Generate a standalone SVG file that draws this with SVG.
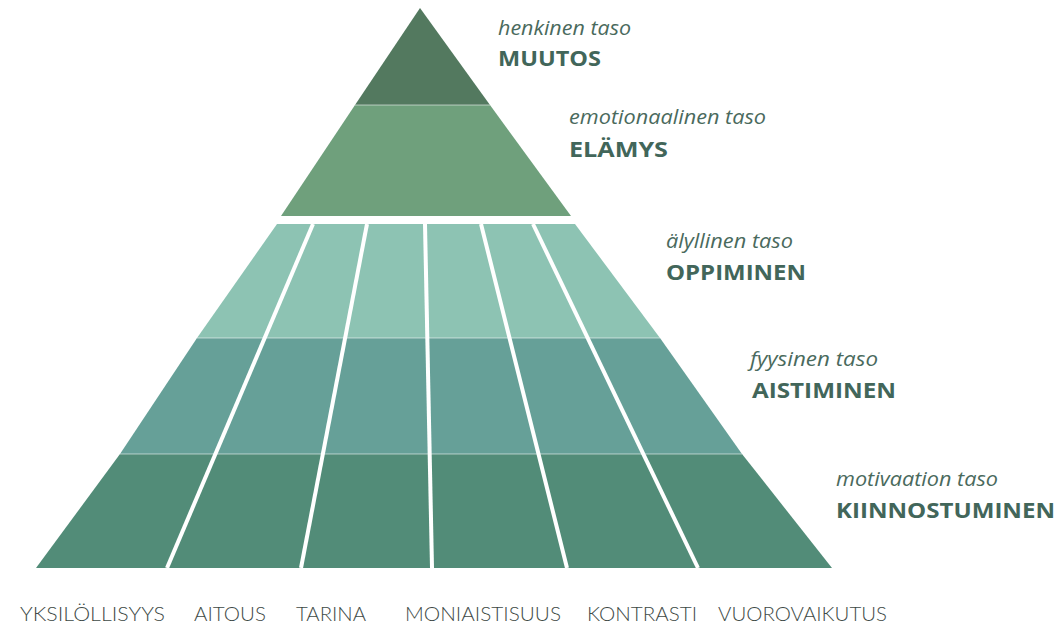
<svg xmlns="http://www.w3.org/2000/svg" width="1058" height="625" viewBox="0 0 1058 625">
  <style>
    .lvl { font-family: "Open Sans", Lato, "Liberation Sans", sans-serif; font-style: italic; font-size: 20px; fill: #4a6a5d; }
    .name { font-family: "Open Sans", Lato, "Liberation Sans", sans-serif; font-weight: bold; font-size: 22px; fill: #42665a; }
    .col { font-family: Lato, "Open Sans", "Liberation Sans", sans-serif; font-weight: 300; font-size: 20px; fill: #3e4a46; }
    .div { stroke: #ffffff; stroke-width: 4; fill: none; }
    .seam { stroke: #ffffff; stroke-opacity: 0.55; stroke-width: 1; fill: none; }
  </style>
  <rect width="1058" height="625" fill="#ffffff"/>

  <!-- upper pyramid: spiritual and emotional levels -->
  <g id="muutos">
    <polygon points="420,8 490,105 355,105" fill="#53795f"/>
    <text class="lvl" x="498" y="35" textLength="133" lengthAdjust="spacingAndGlyphs">henkinen taso</text>
    <text class="name" x="498" y="66" textLength="103" lengthAdjust="spacingAndGlyphs">MUUTOS</text>
  </g>
  <g id="elamys">
    <polygon points="355,105 490,105 571,216 281,216" fill="#6fa07c"/>
    <line class="seam" x1="355" y1="105" x2="490" y2="105"/>
    <text class="lvl" x="569" y="124" textLength="197" lengthAdjust="spacingAndGlyphs">emotionaalinen taso</text>
    <text class="name" x="569" y="157" textLength="99" lengthAdjust="spacingAndGlyphs">ELÄMYS</text>
  </g>

  <!-- lower pyramid: three bands split into six columns -->
  <g id="oppiminen">
    <polygon points="277,224 575,224 660,338 197,338" fill="#8dc3b3"/>
    <text class="lvl" x="666" y="248" textLength="127" lengthAdjust="spacingAndGlyphs">älyllinen taso</text>
    <text class="name" x="666" y="280" textLength="140" lengthAdjust="spacingAndGlyphs">OPPIMINEN</text>
  </g>
  <g id="aistiminen">
    <polygon points="197,338 660,338 742,454 120,454" fill="#66a098"/>
    <text class="lvl" x="750" y="366" textLength="128" lengthAdjust="spacingAndGlyphs">fyysinen taso</text>
    <text class="name" x="752" y="398" textLength="144" lengthAdjust="spacingAndGlyphs">AISTIMINEN</text>
  </g>
  <g id="kiinnostuminen">
    <polygon points="120,454 742,454 832,568 36,568" fill="#528c78"/>
    <text class="lvl" x="836" y="486" textLength="162" lengthAdjust="spacingAndGlyphs">motivaation taso</text>
    <text class="name" x="836" y="518" textLength="219" lengthAdjust="spacingAndGlyphs">KIINNOSTUMINEN</text>
  </g>

  <!-- band seams and column dividers -->
  <g id="connectors">
    <line class="seam" x1="197" y1="338" x2="660" y2="338"/>
    <line class="seam" x1="120" y1="454" x2="742" y2="454"/>
    <line class="div" x1="313" y1="224" x2="167" y2="568"/>
    <line class="div" x1="367" y1="224" x2="301" y2="568"/>
    <line class="div" x1="425" y1="224" x2="432" y2="568"/>
    <line class="div" x1="481" y1="224" x2="567" y2="568"/>
    <line class="div" x1="533" y1="224" x2="698" y2="568"/>
  </g>

  <!-- column labels -->
  <g id="columns">
    <text class="col" x="20" y="621" textLength="145" lengthAdjust="spacingAndGlyphs">YKSILÖLLISYYS</text>
    <text class="col" x="194" y="621" textLength="72" lengthAdjust="spacingAndGlyphs">AITOUS</text>
    <text class="col" x="296" y="621" textLength="70" lengthAdjust="spacingAndGlyphs">TARINA</text>
    <text class="col" x="405" y="621" textLength="156" lengthAdjust="spacingAndGlyphs">MONIAISTISUUS</text>
    <text class="col" x="587" y="621" textLength="110" lengthAdjust="spacingAndGlyphs">KONTRASTI</text>
    <text class="col" x="718" y="621" textLength="169" lengthAdjust="spacingAndGlyphs">VUOROVAIKUTUS</text>
  </g>
</svg>
